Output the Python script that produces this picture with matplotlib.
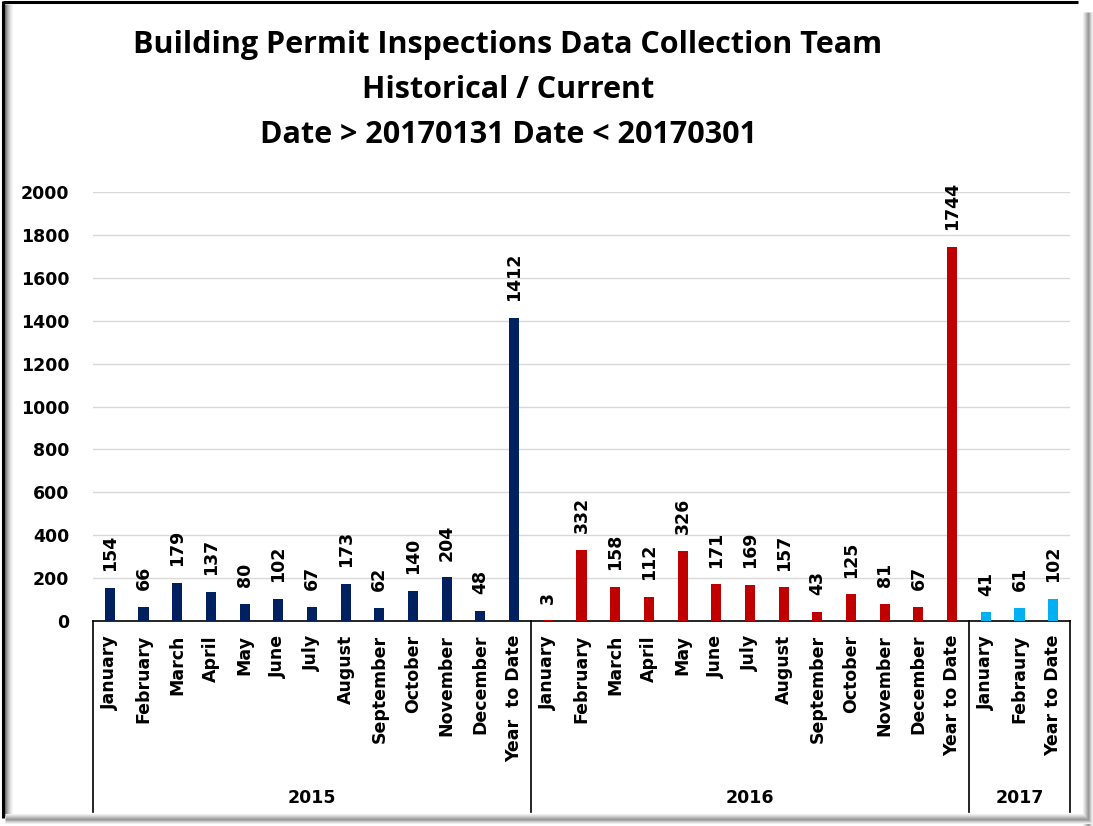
import matplotlib
matplotlib.use("Agg")
import matplotlib.pyplot as plt
from matplotlib.lines import Line2D

# ---- data ----
labels_2015 = ["January", "February", "March", "April", "May", "June", "July",
               "August", "September", "October", "November", "December", "Year  to Date"]
values_2015 = [154, 66, 179, 137, 80, 102, 67, 173, 62, 140, 204, 48, 1412]
labels_2016 = ["January", "February", "March", "April", "May", "June", "July",
               "August", "September", "October", "November", "December", "Year to Date"]
values_2016 = [3, 332, 158, 112, 326, 171, 169, 157, 43, 125, 81, 67, 1744]
labels_2017 = ["January", "Febraury", "Year to Date"]
values_2017 = [41, 61, 102]
years = ["2015", "2016", "2017"]
title_lines = ["Building Permit Inspections Data Collection Team",
               "Historical / Current",
               "Date > 20170131 Date < 20170301"]
yticks = list(range(0, 2001, 200))

colors = ["#002060", "#C00000", "#00B0F0"]
groups = [(labels_2015, values_2015), (labels_2016, values_2016), (labels_2017, values_2017)]

W, H = 1093, 826
fig = plt.figure(figsize=(W / 100, H / 100), dpi=100)
fig.patch.set_facecolor("white")

def fx(x):
    return x / W

def fy(y):
    return 1 - y / H

ax_left, ax_right, ax_top, ax_bottom = 93, 1070, 192, 621
ax = fig.add_axes([fx(ax_left), fy(ax_bottom), fx(ax_right - ax_left), (ax_bottom - ax_top) / H])

font = "DejaVu Sans"
fs = 12.5
plot_h = ax_bottom - ax_top

pos = 0
bounds = [-0.5]
for gi, (labs, vals) in enumerate(groups):
    xs = list(range(pos, pos + len(vals)))
    ax.bar(xs, vals, width=0.3, color=colors[gi], zorder=3)
    for x, v, lab in zip(xs, vals, labs):
        ax.annotate(str(v), xy=(x, v), xytext=(0, 12), textcoords="offset points",
                    rotation=90, ha="center", va="bottom", fontsize=fs,
                    fontweight="bold", family=font, color="black")
        ax.text(x, -14 / plot_h, lab, transform=ax.get_xaxis_transform(), rotation=90,
                ha="center", va="top", fontsize=fs, fontweight="bold", family=font,
                clip_on=False)
    pos += len(vals)
    bounds.append(pos - 0.5)

ax.set_xlim(-0.5, pos - 0.5)
ax.set_ylim(0, 2000)
ax.set_yticks(yticks)
ax.set_yticklabels([str(t) for t in yticks], fontsize=fs, fontweight="bold", family=font)
ax.tick_params(axis="y", length=0, pad=17)
ax.set_xticks([])
ax.grid(axis="y", color="#D9D9D9", linewidth=1.0, zorder=0)
for s in ["left", "right", "top"]:
    ax.spines[s].set_visible(False)
ax.spines["bottom"].set_color("black")
ax.spines["bottom"].set_linewidth(1.2)

# group boundaries and year labels
low = -(812 - ax_bottom) / plot_h
for b in bounds:
    ax.plot([b, b], [0, low], transform=ax.get_xaxis_transform(), color="black",
            linewidth=1.2, clip_on=False)
for i, yr in enumerate(years):
    cx = (bounds[i] + bounds[i + 1]) / 2
    ax.text(cx, -(798 - ax_bottom) / plot_h, yr, transform=ax.get_xaxis_transform(),
            ha="center", va="center", fontsize=fs, fontweight="bold", family=font)

# title
for i, (line, yc) in enumerate(zip(title_lines, [45, 90, 135])):
    fig.text(fx(508), fy(yc), line, ha="center", va="center", fontsize=22,
             fontweight="bold", family="Open Sans")

# frame
def fline(x0, y0, x1, y1, c, lw):
    fig.add_artist(Line2D([fx(x0), fx(x1)], [fy(y0), fy(y1)], color=c, linewidth=lw,
                          solid_capstyle="butt"))

fline(3, 2, 1078, 2, "black", 2.2)
fline(3, 1, 3, 818, "black", 2.2)
shade = ["#6e6e6e", "#8c8c8c", "#a8a8a8", "#bdbdbd", "#d0d0d0", "#e0e0e0", "#ececec", "#f5f5f5"]
for i, c in enumerate(shade):
    fline(5 + i, 4, 5 + i, 816, c, 0.8)
right_shade = ["#f0f0f0", "#e0e0e0", "#cfcfcf", "#bdbdbd", "#a9a9a9", "#9a9a9a", "#a9a9a9", "#c4c4c4", "#dcdcdc", "#efefef"]
for i, c in enumerate(right_shade):
    fline(1083 + i, 12, 1083 + i, 826, c, 0.8)
    fline(5, 814 + i, 1093, 814 + i, c, 0.8)

fig.savefig("out.png", dpi=100, facecolor="white")
